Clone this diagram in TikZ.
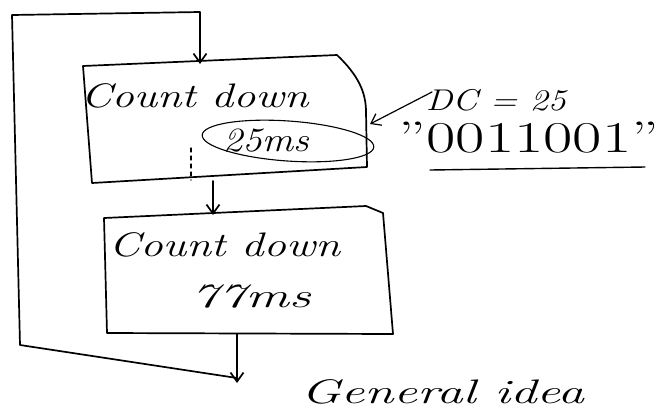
\documentclass[tikz,border=0pt]{standalone}
\usetikzlibrary{arrows.meta}
\begin{document}
\begin{tikzpicture}[x=1pt,y=-1pt,line width=1.7pt,line cap=round,line join=round,
  hand/.style={font=\fontsize{34}{38}\selectfont\itshape,inner sep=0pt,anchor=west},
  arr/.style={-{Straight Barb[length=9pt,width=13pt]}}]
\useasboundingbox (0,0) rectangle (669,416);

% first block, with its bent upper right corner
\draw (83,66) -- (337,55) .. controls (358,75) and (366,92) .. (366,112)
      -- (367,167) -- (92,183) -- cycle;
% second block
\draw (104,218) -- (366,206) -- (383,213) -- (393,334) -- (107,333) -- cycle;

% anchor points of the flow
\coordinate (loopTop)  at (200,12);
\coordinate (loopTL)   at (12,15);
\coordinate (loopBL)   at (20,345);
\coordinate (b1in)     at (200,64);
\coordinate (b1out)    at (213,181);
\coordinate (b2in)     at (213,215);
\coordinate (b2out)    at (237,334);
\coordinate (exit)     at (237,383);
\coordinate (join)     at (237,378);

% texts
\node[hand] (t1)  at (80,96)  {\scalebox{1.3}[1]{Count down}};
\node[hand] (t2)  at (222,141) {\scalebox{1.15}[1]{25ms}};
\node[hand] (t3)  at (108,245) {\scalebox{1.32}[1]{Count down}};
\node[hand] (t4)  at (190,297) {\scalebox{1.6}[1]{77ms}};
\node[hand,font=\fontsize{30}{34}\selectfont\itshape] (dc)  at (425,100) {\scalebox{1.2}[1]{DC = 25}};
\node[hand,font=\fontsize{44}{48}\selectfont] (bits) at (398,138) {\scalebox{1.45}[1]{\textquotedblright0011001\textquotedblright}};
\node[hand] (gen) at (300,392) {\scalebox{1.55}[1]{General idea}};

% ring round the duration
\draw[line width=1.1pt,rotate around={-4:(288,141)}] (288,141) ellipse [x radius=86pt,y radius=20pt];
\coordinate (ring) at (370,124);
\coordinate (dcfoot) at (432,92);
\draw[line width=1.2pt,arr] (dcfoot) -- (ring);

% short dashed tick inside the first block
\draw[line width=1.2pt,dashed,dash pattern=on 4pt off 4pt] (191,148) -- (191,180);

% underline below the bit string
\draw[line width=1.4pt] (430,170) -- (645,167);

% flow connectors
\draw[arr] (b1out) -- (b2in);
\draw[arr] (b2out) -- (exit);
\draw[arr] (join) -- (loopBL) -- (loopTL) -- (loopTop) -- (b1in);
\end{tikzpicture}
\end{document}
